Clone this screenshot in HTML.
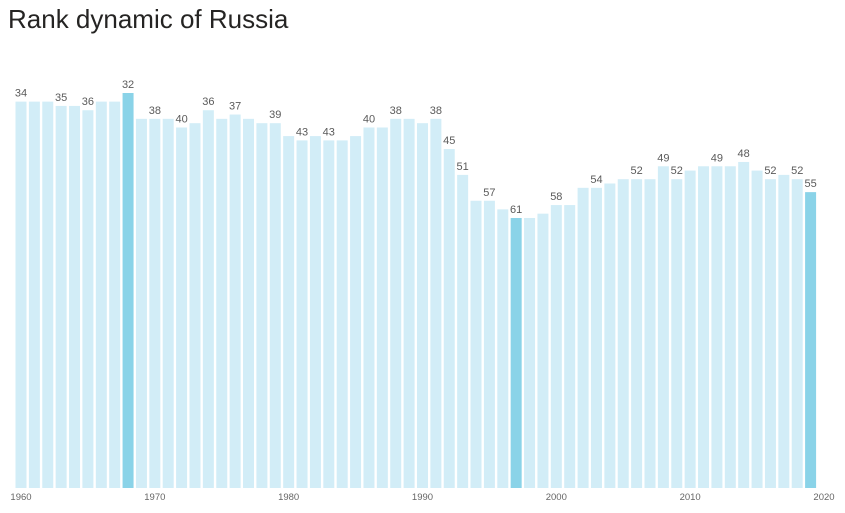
<!DOCTYPE html>
<html><head><meta charset="utf-8"><style>
body{margin:0;background:#fff;width:845px;height:513px;overflow:hidden;font-family:"Liberation Sans","DejaVu Sans",sans-serif}
#title{position:absolute;left:8px;top:4px;font-size:26px;color:#252423;margin:0;font-weight:normal}
</style></head><body>
<h1 id="title">Rank dynamic of Russia</h1>
<svg id="chart" width="845" height="513" style="position:absolute;left:0;top:0"></svg>
<script>
const years=[1960,1961,1962,1963,1964,1965,1966,1967,1968,1969,1970,1971,1972,1973,1974,1975,1976,1977,1978,1979,1980,1981,1982,1983,1984,1985,1986,1987,1988,1989,1990,1991,1992,1993,1994,1995,1996,1997,1998,1999,2000,2001,2002,2003,2004,2005,2006,2007,2008,2009,2010,2011,2012,2013,2014,2015,2016,2017,2018,2019];
const ranks=[34,34,34,35,35,36,34,34,32,38,38,38,40,39,36,38,37,38,39,39,42,43,42,43,43,42,40,40,38,38,39,38,45,51,57,57,59,61,61,60,58,58,54,54,53,52,52,52,49,52,50,49,49,49,48,50,52,51,52,55];
const labeledYears=[1960,1963,1965,1968,1970,1972,1974,1976,1979,1981,1983,1986,1988,1991,1992,1993,1995,1997,2000,2003,2006,2008,2009,2012,2014,2016,2018,2019];
const highlightYears=[1968,1997,2019];
const tickYears=[1960,1970,1980,1990,2000,2010,2020];
const NS="http://www.w3.org/2000/svg";
const svg=document.getElementById('chart');
const base=488;
function xs(y){return 21+(y-1960)*13.383;}
function ys(r){return 93+(r-32)*4.31;}
function mk(t,a){const e=document.createElementNS(NS,t);for(const k in a)e.setAttribute(k,a[k]);svg.appendChild(e);return e;}
years.forEach((yr,i)=>{
  const top=ys(ranks[i]);
  const r=mk('rect',{x:xs(yr)-5.5,y:top,width:11,height:base-top,fill:highlightYears.includes(yr)?'#8ad3e8':'#d2edf7'});
  
  
  if(labeledYears.includes(yr)){
    const t=mk('text',{x:xs(yr),y:top-5,'text-anchor':'middle','font-size':11,fill:'#5a5a5a'});
    t.textContent=ranks[i];
    
    
  }
});
tickYears.forEach(yr=>{
  const t=mk('text',{x:xs(yr),y:500,'text-anchor':'middle','font-size':9.5,fill:'#666'});
  t.textContent=yr;
  
  
});
</script>
</body></html>
